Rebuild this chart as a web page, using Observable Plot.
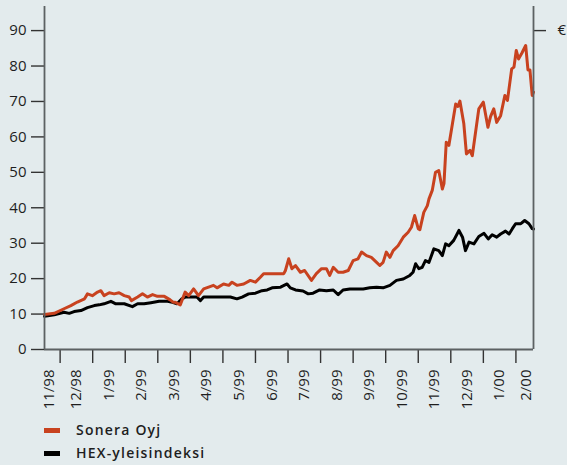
<!DOCTYPE html>
<html>
<head>
<meta charset="utf-8">
<script src="https://cdn.jsdelivr.net/npm/d3@7"></script>
<script src="https://cdn.jsdelivr.net/npm/@observablehq/plot@0.6"></script>
<style>
  html, body { margin: 0; padding: 0; background: #e3ebed; }
  body { width: 567px; height: 465px; overflow: hidden; font-family: "Open Sans", sans-serif; }
  #chart svg { display: block; }
  .legend { padding-top: 4px; }
  .row { position: relative; height: 22.5px; }
  .sw { position: absolute; left: 44px; top: 9px; width: 16px; height: 5px; }
  .lt { position: absolute; left: 76px; top: 0; line-height: 22.5px; font-size: 14px; letter-spacing: 1.2px; color: #1e1e1e; font-weight: 600; }
</style>
</head>
<body>
<div id="chart"></div>
<div class="legend" id="legend"></div>
<script>
// Months counted from 1 Nov 1998 (1 = 1 Dec 1998, 15 = 1 Feb 2000)
const seriesNames = ["Sonera Oyj", "HEX-yleisindeksi"];
const seriesColors = ["#c8421f", "#000000"];

const soneraMonths = [0.52,0.82,1.12,1.33,1.53,1.75,1.84,1.99,2.15,2.25,2.35,2.51,2.66,2.81,2.97,3.12,3.19,3.38,3.53,3.68,3.84,3.99,4.20,4.38,4.48,4.54,4.69,4.84,4.95,5.10,5.25,5.41,5.56,5.71,5.82,6.02,6.18,6.28,6.43,6.64,6.84,7.00,7.15,7.25,7.46,7.87,7.92,8.02,8.12,8.23,8.38,8.51,8.72,8.87,9.03,9.18,9.28,9.39,9.54,9.69,9.85,10.00,10.15,10.26,10.41,10.56,10.72,10.82,10.92,11.02,11.13,11.23,11.38,11.54,11.69,11.79,11.89,12.00,12.05,12.17,12.28,12.33,12.43,12.53,12.63,12.74,12.79,12.86,12.94,13.05,13.15,13.22,13.28,13.40,13.48,13.59,13.66,13.86,14.00,14.14,14.22,14.32,14.41,14.53,14.66,14.74,14.87,14.94,15.01,15.08,15.18,15.30,15.37,15.43,15.50,15.54];
const soneraValues = [9.9,10.2,11.5,12.4,13.4,14.3,15.7,15.2,16.2,16.6,15.2,16.0,15.7,16.0,15.2,14.8,13.8,14.8,15.7,14.8,15.5,15.0,15.0,14.0,13.3,13.3,12.6,16.2,15.2,17.1,15.2,17.1,17.6,18.1,17.4,18.5,18.1,19.0,18.1,18.5,19.5,19.0,20.4,21.4,21.4,21.4,22.3,25.6,22.8,23.7,21.8,22.3,19.5,21.4,22.8,22.8,20.9,23.2,21.8,21.8,22.3,25.1,25.6,27.5,26.5,26.0,24.6,23.7,24.6,27.5,26.0,27.9,29.3,31.7,33.1,34.5,37.8,34.1,33.8,38.7,40.6,42.5,44.9,50.0,50.5,45.3,46.8,58.5,57.6,63.7,69.3,68.6,70.1,63.7,55.2,56.2,54.7,67.9,69.8,62.7,65.7,67.9,64.1,66.0,71.7,70.3,79.2,79.7,84.4,82.0,83.6,85.8,78.9,78.9,71.7,72.6];

const hexMonths = [0.52,0.82,1.12,1.28,1.43,1.64,1.84,2.05,2.20,2.35,2.56,2.71,2.97,3.22,3.38,3.58,3.79,4.04,4.30,4.45,4.59,4.74,4.84,5.20,5.31,5.41,5.71,6.23,6.43,6.59,6.79,7.00,7.20,7.36,7.51,7.77,7.97,8.07,8.23,8.46,8.62,8.77,8.97,9.18,9.39,9.54,9.69,9.90,10.10,10.31,10.51,10.72,10.92,11.13,11.33,11.54,11.74,11.84,11.92,12.02,12.12,12.22,12.33,12.48,12.63,12.74,12.84,12.94,13.09,13.25,13.36,13.45,13.56,13.71,13.86,14.02,14.15,14.27,14.41,14.53,14.68,14.79,14.89,14.99,15.15,15.27,15.40,15.50,15.54];
const hexValues = [9.4,9.8,10.5,10.2,10.7,11.0,11.8,12.4,12.6,12.9,13.6,12.9,12.9,12.1,12.9,12.9,13.2,13.6,13.6,13.3,12.9,14.3,14.8,14.8,13.8,14.8,14.8,14.8,14.3,14.8,15.7,15.9,16.6,16.8,17.4,17.6,18.5,17.4,16.8,16.5,15.7,15.9,16.8,16.6,16.8,15.5,16.8,17.1,17.1,17.1,17.4,17.6,17.4,18.1,19.5,19.9,20.9,21.8,24.2,22.8,23.2,25.1,24.6,28.4,27.9,26.5,29.8,29.3,30.8,33.6,31.7,27.9,30.3,29.8,31.9,32.8,31.2,32.4,31.7,32.6,33.4,32.6,34.1,35.5,35.5,36.4,35.5,34.1,34.0];

const yTicks = [0,10,20,30,40,50,60,70,80,90];
const monthTicks = [1,2,3,4,5,6,7,8,9,10,11,12,13,14,15];
const monthLabels = ["11/98","12/98","1/99","2/99","3/99","4/99","5/99","6/99","7/99","8/99","9/99","10/99","11/99","12/99","1/00","2/00"];
const monthLabelPos = [0.66,1.5,2.5,3.5,4.5,5.5,6.5,7.5,8.5,9.5,10.5,11.5,12.5,13.5,14.5,15.31];
const unitLabel = "€";

const xDomain = [0.52, 15.54];
const yDomain = [0, 96.8];

const sonera = soneraMonths.map((t, i) => ({t, v: soneraValues[i]}));
const hex = hexMonths.map((t, i) => ({t, v: hexValues[i]}));
const labels = monthLabels.map((text, i) => ({text, x: monthLabelPos[i]}));

const chart = Plot.plot({
  width: 567,
  height: 415,
  marginLeft: 44,
  marginRight: 34,
  marginTop: 6,
  marginBottom: 66,
  style: {background: "transparent", fontFamily: "Open Sans, sans-serif", fontSize: "15px", color: "#1e1e1e"},
  x: {domain: xDomain, type: "linear"},
  y: {domain: yDomain},
  marks: [
    Plot.axisY({anchor: "left", ticks: yTicks, tickSize: 13, tickPadding: 5, label: null, stroke: "#333", strokeWidth: 1.4, fontSize: 15}),
    Plot.axisY({anchor: "right", ticks: [90], tickFormat: () => unitLabel, tickSize: 12, tickPadding: 12, label: null, stroke: "#333", strokeWidth: 1.4, fontSize: 15}),
    Plot.axisX({anchor: "bottom", ticks: monthTicks, tickFormat: () => "", tickSize: 14, label: null, stroke: "#333", strokeWidth: 1.4}),
    Plot.text(labels, {x: "x", y: 0, text: "text", rotate: -90, textAnchor: "end", dy: 20, fontSize: 15, fill: "#1e1e1e"}),
    Plot.line(hex, {x: "t", y: "v", stroke: seriesColors[1], strokeWidth: 3, strokeLinejoin: "round"}),
    Plot.line(sonera, {x: "t", y: "v", stroke: seriesColors[0], strokeWidth: 3, strokeLinejoin: "round"}),
    Plot.ruleX([xDomain[0], xDomain[1]], {y1: yDomain[0], y2: yDomain[1], stroke: "#5c6163", strokeWidth: 1.8}),
    Plot.ruleY([0], {x1: xDomain[0], x2: xDomain[1], stroke: "#5c6163", strokeWidth: 1.8})
  ]
});
document.getElementById("chart").append(chart);

const legend = document.getElementById("legend");
seriesNames.forEach((name, i) => {
  const row = document.createElement("div");
  row.className = "row";
  const sw = document.createElement("div");
  sw.className = "sw";
  sw.style.background = seriesColors[i];
  const lt = document.createElement("div");
  lt.className = "lt";
  lt.textContent = name;
  row.append(sw, lt);
  legend.append(row);
});
</script>
</body>
</html>
